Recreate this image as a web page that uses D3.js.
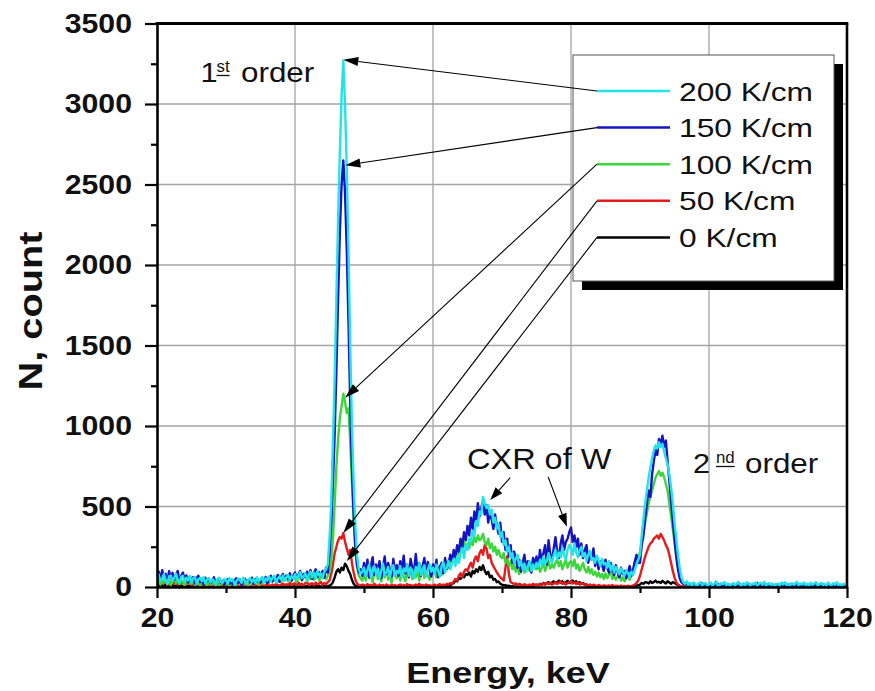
<!DOCTYPE html>
<html>
<head>
<meta charset="utf-8">
<script src="https://cdn.jsdelivr.net/npm/d3@7"></script>
<style>
  body { margin: 0; background: #fff; }
  svg { display: block; }
</style>
</head>
<body>
<svg id="chart" width="875" height="691"></svg>
<script>
// Energy grid of the spectra: 20 ... 120 keV in 0.25 keV channels
const energyStart = 20;
const energyStep = 0.25;

const xTicks = [20, 40, 60, 80, 100, 120];
const xMinorTicks = [30, 50, 70, 90, 110];
const yTicks = [0, 500, 1000, 1500, 2000, 2500, 3000, 3500];
const yMinorTicks = [250, 750, 1250, 1750, 2250, 2750, 3250];

const seriesLabels = ["200 K/cm", "150 K/cm", "100 K/cm", "50 K/cm", "0 K/cm"];

// Counts per channel; each row covers 5 keV (20 channels), last value is 120 keV
const counts200 = [
  60,78,35,52,80,44,20,66,71,38, 55,82,47,25,63,70,33,58,40,68,
  30,55,62,18,48,57,36,60,22,45, 52,28,50,40,15,47,58,33,26,50,
  42,20,55,38,48,12,35,52,44,25, 58,40,18,46,55,30,50,24,60,36,
  48,62,28,55,40,66,35,58,70,30, 52,65,45,72,38,60,75,42,68,55,
  80,48,70,92,55,65,85,40,78,95, 60,88,52,100,72,85,58,95,110,140,
  300,520,900,1300,1800,2300,2700,3050,3270,3000, 2600,2100,1500,1000,650,380,190,110,80,95,
  120,70,105,140,60,95,130,80,115,55, 100,145,75,90,125,60,110,135,70,100,
  85,130,60,115,95,140,70,120,100,55, 125,90,150,75,110,135,65,105,140,95,
  120,80,140,100,65,130,155,90,120,160, 110,145,175,130,190,150,210,240,180,260,
  230,300,280,350,320,410,380,470,450,560, 520,490,510,450,480,400,430,360,390,310,
  340,260,290,220,250,180,210,150,175,200, 130,160,110,145,95,130,160,100,140,115,
  150,120,170,135,190,145,160,210,175,150, 200,230,170,215,185,245,200,170,230,260,
  240,200,270,215,185,230,250,190,210,160, 200,225,170,180,150,195,165,130,175,140,
  150,120,160,105,135,90,125,100,80,115, 95,70,105,85,60,95,75,110,140,170,
  200,320,420,520,600,680,740,800,850,880, 860,900,870,890,840,800,760,700,620,520,
  400,300,200,120,60,30,20,35,15,25, 10,28,18,8,22,30,12,18,25,10,
  15,28,10,20,35,12,8,25,18,30, 12,22,8,16,26,10,20,32,14,9,
  24,12,30,18,10,22,15,28,8,20, 26,14,32,10,18,24,12,20,9,16,
  22,10,28,16,30,12,20,8,25,14, 18,32,10,22,15,28,12,20,9,26,
  14,22,30,10,18,25,12,20,8,28, 16,10,24,14,30,12,18,8,20,15,
  12
];
const counts150 = [
  70,95,40,105,60,82,30,98,55,88, 45,76,100,35,68,90,50,72,28,64,
  40,62,22,55,70,30,48,15,58,35, 52,25,45,60,18,42,55,28,38,12,
  35,50,20,45,15,40,55,25,48,10, 38,52,22,44,30,58,18,50,35,42,
  28,55,40,62,25,48,70,35,58,45, 75,32,60,80,42,68,50,85,38,72,
  90,55,75,100,45,82,60,95,70,105, 50,88,110,62,92,75,100,58,120,90,
  200,380,650,950,1350,1800,2200,2500,2650,2450, 2100,1650,1150,750,450,250,140,90,110,70,
  150,90,170,60,130,185,75,140,100,160, 55,125,190,80,150,110,65,175,95,135,
  70,160,110,195,85,140,60,175,120,90, 205,100,150,70,130,180,85,155,105,65,
  140,95,170,60,125,150,85,180,110,140, 200,160,230,185,260,220,300,250,340,290,
  380,320,430,360,470,400,520,440,490,540, 450,510,400,470,420,360,450,380,330,400,
  280,340,230,300,190,260,150,220,180,120, 170,95,150,200,110,160,130,90,180,140,
  190,120,230,160,210,260,140,290,200,170, 240,310,220,180,270,320,230,280,300,340,
  370,280,320,250,300,200,270,180,230,260, 150,210,170,240,130,190,110,160,140,100,
  170,120,90,150,110,75,135,95,60,120, 80,100,55,90,130,70,110,160,200,150,
  150,260,320,430,520,600,560,700,780,850, 820,920,880,940,870,910,780,660,540,420,
  300,190,110,55,30,20,15,30,10,20, 8,25,12,5,18,10,22,6,14,9,
  5,15,8,3,12,20,6,10,4,16, 9,3,14,7,22,5,11,4,18,8,
  6,13,4,20,9,3,15,7,25,5, 12,4,10,18,6,3,14,8,5,16,
  4,12,7,20,5,9,3,14,6,10, 22,5,8,4,13,6,3,17,9,5,
  11,4,15,6,3,9,20,5,8,12, 4,7,18,5,10,3,14,6,9,4,
  5
];
const counts100 = [
  35,50,15,42,28,55,20,45,10,38, 48,25,52,18,40,30,12,44,22,36,
  20,35,12,40,25,8,30,18,38,10, 28,15,35,22,8,30,12,26,18,32,
  15,30,8,38,20,28,10,42,25,12, 35,18,30,8,40,22,15,36,28,12,
  40,20,48,30,55,25,45,35,60,28, 50,70,32,58,40,75,35,62,48,55,
  65,30,55,75,40,60,85,35,70,50, 80,45,62,90,38,72,55,85,48,70,
  90,160,300,520,750,920,1050,1120,1200,1150, 1080,1110,900,650,420,220,120,70,55,40,
  85,40,110,55,75,30,95,120,50,80, 35,100,60,130,45,85,25,115,70,55,
  90,40,125,65,35,105,75,140,50,95, 60,115,40,85,130,55,100,70,45,110,
  80,115,60,100,130,75,140,95,160,120, 180,150,210,170,240,200,260,230,280,250,
  270,240,300,260,310,280,320,290,300,330, 280,260,300,240,270,220,250,200,230,190,
  180,210,150,170,130,160,110,140,95,125, 80,110,140,90,120,150,100,130,160,115,
  110,140,95,120,150,100,130,160,115,140, 120,150,170,130,160,110,140,170,120,150,
  160,130,170,115,140,100,125,150,110,90, 125,85,110,75,95,65,90,60,80,50,
  85,55,75,100,50,70,45,65,90,40, 60,35,55,80,45,70,90,120,150,180,
  220,280,340,400,460,520,560,600,640,680, 700,720,690,710,680,640,600,520,440,360,
  280,200,130,80,45,25,15,20,10,15, 8,12,5,10,14,6,9,4,11,7,
  5,9,3,7,11,4,6,2,8,5, 10,3,6,9,4,7,2,8,5,3,
  6,10,4,3,8,5,12,3,6,4, 9,2,7,5,3,10,4,6,8,3,
  5,3,9,4,6,11,3,5,8,2, 6,4,10,5,3,7,4,9,2,6,
  4,8,3,6,10,2,5,7,3,9, 4,6,2,8,5,3,7,4,6,3,
  4
];
const counts50 = [
  30,42,18,38,25,45,12,35,28,40, 20,32,15,38,22,30,10,28,18,25,
  15,22,8,20,12,18,5,15,10,20, 8,14,5,12,18,6,10,4,12,8,
  6,10,3,8,12,4,7,10,5,9, 14,4,8,11,5,9,3,12,6,10,
  8,14,5,12,18,7,10,15,6,20, 12,8,16,22,10,18,12,25,15,20,
  22,10,28,15,20,8,25,30,12,18, 24,10,28,15,22,32,12,25,18,30,
  40,80,140,210,250,290,310,300,335,280, 240,200,230,150,90,45,20,12,8,15,
  12,5,18,8,14,4,20,10,6,15, 8,12,4,16,9,5,14,7,11,4,
  10,16,6,12,4,18,8,13,5,10, 15,7,20,9,12,5,16,8,11,6,
  10,14,6,12,18,8,15,10,20,14, 25,18,35,50,40,70,85,60,95,110,
  100,130,150,120,170,190,160,210,230,200, 260,240,180,200,150,130,110,90,75,60,
  50,40,120,190,80,30,25,18,22,12, 20,15,10,18,12,8,15,10,20,12,
  15,10,18,12,22,14,28,18,25,15, 20,30,18,26,35,20,28,15,24,30,
  35,22,28,18,30,15,25,20,12,18, 10,15,8,14,10,6,12,8,5,10,
  8,5,10,6,12,4,8,6,3,9, 5,7,4,8,3,6,10,15,25,40,
  70,110,150,190,220,250,270,280,300,310, 320,300,330,310,290,260,240,200,150,100,
  60,30,15,8,5,3,4,2,3,1, 2,3,1,2,0,1,2,1,0,1,
  2,1,0,1,3,1,0,2,1,0, 1,2,0,1,1,0,2,1,0,1,
  1,0,2,1,0,1,2,0,1,1, 0,2,1,0,1,0,1,2,0,1,
  0,1,1,0,2,1,0,1,0,2, 1,0,1,1,0,2,0,1,1,0,
  1,0,1,2,0,1,0,1,1,0, 2,0,1,0,1,1,0,2,1,0,
  1
];
const counts0 = [
  8,12,4,10,6,14,3,9,5,11, 4,8,2,7,10,3,6,2,8,4,
  3,6,1,5,2,7,1,4,3,6, 1,4,2,5,1,3,2,4,1,3,
  2,4,1,3,5,1,2,4,1,3, 2,5,1,3,2,4,1,2,3,1,
  4,2,5,1,3,6,2,4,1,5, 3,2,6,1,4,2,5,3,1,4,
  3,6,2,4,1,5,3,7,2,4, 6,2,5,3,8,2,4,6,3,5,
  8,15,30,60,95,110,90,120,105,145, 130,100,80,45,20,8,4,2,3,1,
  2,4,1,3,5,2,1,4,2,3, 1,5,2,3,1,4,2,1,3,2,
  4,1,3,2,5,1,3,2,4,1, 2,5,1,3,2,4,1,3,2,1,
  3,1,4,2,3,5,2,6,4,10, 8,18,25,40,35,55,50,70,60,80,
  75,90,65,100,85,110,95,125,105,135, 100,80,95,60,70,45,50,30,35,20,
  15,10,12,6,8,4,5,2,4,3, 2,4,1,3,2,5,3,8,6,12,
  15,10,20,14,25,18,22,30,20,28, 35,25,30,40,28,35,22,30,38,25,
  32,40,28,35,22,30,18,25,15,10, 8,5,4,6,2,3,1,4,2,1,
  3,1,2,4,1,2,3,1,2,1, 3,2,1,2,4,1,2,5,8,12,
  15,25,20,30,28,22,35,25,30,40, 28,32,25,38,30,22,35,28,20,30,
  25,18,12,6,3,1,2,0,1,0, 1,0,2,0,1,0,0,1,0,1,
  0,1,0,0,2,0,1,0,0,1, 0,0,1,0,0,1,0,0,0,1,
  0,0,1,0,1,0,0,0,1,0, 0,1,0,0,1,0,0,1,0,0,
  1,0,0,1,0,0,0,1,0,0, 1,0,0,0,1,0,1,0,0,0,
  0,1,0,0,0,1,0,0,1,0, 0,0,1,0,0,1,0,0,0,1,
  0
];

// Where each legend leader arrow points: [energy keV, counts]
const leaderTips = [[47.0, 3275], [47.3, 2620], [47.25, 1175], [47.0, 335], [47.5, 160]];
// CXR of W arrows: [from, to] in [keV, counts]
const cxrArrows = [
  [[71.2, 680], [68.3, 540]],
  [[76.7, 683], [79.4, 375]]
];

const seriesData = [counts200, counts150, counts100, counts50, counts0];
const seriesColors = ["#22e3e8", "#1414c4", "#3ad63a", "#e21c1c", "#000000"];

const svg = d3.select("#chart");
const FONT = "'Liberation Sans', Arial, Helvetica, sans-serif";

const x = d3.scaleLinear().domain([20, 120]).range([157, 847]);
const y = d3.scaleLinear().domain([0, 3500]).range([587, 23.5]);

function stretch(sel, k) {
  sel.each(function () {
    const w = this.getComputedTextLength();
    this.setAttribute("textLength", (w * k).toFixed(1));
    this.setAttribute("lengthAdjust", "spacingAndGlyphs");
  });
}

// grid
const grid = svg.append("g").attr("stroke", "#a3a3a3").attr("stroke-width", 1.3);
grid.selectAll(".gx").data(xTicks.slice(1, -1)).join("line")
  .attr("x1", d => x(d)).attr("x2", d => x(d))
  .attr("y1", y(0)).attr("y2", y(3500));
grid.selectAll(".gy").data(yTicks.slice(1, -1)).join("line")
  .attr("x1", x(20)).attr("x2", x(120))
  .attr("y1", d => y(d)).attr("y2", d => y(d));

// spectra
svg.append("clipPath").attr("id", "plotClip").append("rect")
  .attr("x", x(20)).attr("y", y(3500)).attr("width", x(120) - x(20)).attr("height", y(0) - y(3500));

const line = d3.line()
  .x((d, i) => x(energyStart + i * energyStep))
  .y(d => y(d));

const drawOrder = [4, 3, 2, 1, 0];
svg.append("g").attr("clip-path", "url(#plotClip)")
  .selectAll("path").data(drawOrder).join("path")
  .attr("d", i => line(seriesData[i]))
  .attr("fill", "none")
  .attr("stroke", i => seriesColors[i])
  .attr("stroke-width", 2.4)
  .attr("stroke-linejoin", "round");

// axes
const xAxisG = svg.append("g").attr("transform", `translate(0,${y(0)})`)
  .call(d3.axisBottom(x).tickValues(xTicks).tickSize(11).tickPadding(9).tickSizeOuter(0).tickFormat(d3.format("d")));
const xMinorG = svg.append("g").attr("transform", `translate(0,${y(0)})`)
  .call(d3.axisBottom(x).tickValues(xMinorTicks).tickSize(6).tickFormat(""));
xMinorG.select(".domain").remove();

const yAxisG = svg.append("g").attr("transform", `translate(${x(20)},0)`)
  .call(d3.axisLeft(y).tickValues(yTicks).tickSize(12).tickPadding(13).tickSizeOuter(0).tickFormat(d3.format("d")));
const yMinorG = svg.append("g").attr("transform", `translate(${x(20)},0)`)
  .call(d3.axisLeft(y).tickValues(yMinorTicks).tickSize(6).tickFormat(""));
yMinorG.select(".domain").remove();

[xAxisG, yAxisG, xMinorG, yMinorG].forEach(g => {
  g.selectAll(".domain").attr("stroke", "#000").attr("stroke-width", 2.6);
  g.selectAll(".tick line").attr("stroke", "#000").attr("stroke-width", 2.2);
});
[xAxisG, yAxisG].forEach(g => {
  g.selectAll(".tick text")
    .attr("font-family", FONT).attr("font-size", 28).attr("font-weight", "bold").attr("fill", "#111");
  stretch(g.selectAll(".tick text"), 1.08);
});

// top and right frame
svg.append("line").attr("x1", x(20) - 1.3).attr("x2", x(120) + 1.3).attr("y1", y(3500)).attr("y2", y(3500))
  .attr("stroke", "#000").attr("stroke-width", 3);
svg.append("line").attr("x1", x(120)).attr("x2", x(120)).attr("y1", y(3500)).attr("y2", y(0))
  .attr("stroke", "#000").attr("stroke-width", 2.6);

// axis titles
const xTitle = svg.append("text").attr("x", 508).attr("y", 683).attr("text-anchor", "middle")
  .attr("font-family", FONT).attr("font-size", 30).attr("font-weight", "bold").attr("fill", "#111")
  .text("Energy, keV");
stretch(xTitle, 1.2);
const yTitle = svg.append("text").attr("transform", "translate(42,311) rotate(-90)").attr("text-anchor", "middle")
  .attr("font-family", FONT).attr("font-size", 34).attr("font-weight", "bold").attr("fill", "#111")
  .text("N, count");
stretch(yTitle, 1.17);

// legend
const legend = { x: 573, y: 55, w: 261, h: 226, shadow: 9 };
svg.append("rect").attr("x", legend.x + legend.shadow).attr("y", legend.y + legend.shadow)
  .attr("width", legend.w).attr("height", legend.h).attr("fill", "#000");
svg.append("rect").attr("x", legend.x).attr("y", legend.y)
  .attr("width", legend.w).attr("height", legend.h).attr("fill", "#fff")
  .attr("stroke", "#555").attr("stroke-width", 1);

const rowY = i => 91 + i * 36.6;
const sampleX0 = 597, sampleX1 = 670;
const lg = svg.append("g");
lg.selectAll("line").data(seriesLabels).join("line")
  .attr("x1", sampleX0).attr("x2", sampleX1)
  .attr("y1", (d, i) => rowY(i)).attr("y2", (d, i) => rowY(i))
  .attr("stroke", (d, i) => seriesColors[i]).attr("stroke-width", 2.5);
const lgText = lg.selectAll("text").data(seriesLabels).join("text")
  .attr("x", 679).attr("y", (d, i) => rowY(i) + 9.5)
  .attr("font-family", FONT).attr("font-size", 26).attr("fill", "#111")
  .text(d => d);
stretch(lgText, 1.22);

// arrows
function arrow(x1, y1, x2, y2, headLen, headHalf) {
  const ang = Math.atan2(y2 - y1, x2 - x1);
  const bx = x2 - headLen * Math.cos(ang), by = y2 - headLen * Math.sin(ang);
  const px = -Math.sin(ang) * headHalf, py = Math.cos(ang) * headHalf;
  svg.append("line").attr("x1", x1).attr("y1", y1).attr("x2", bx).attr("y2", by)
    .attr("stroke", "#000").attr("stroke-width", 1.1);
  svg.append("path")
    .attr("d", `M${x2},${y2}L${bx + px},${by + py}L${bx - px},${by - py}Z`)
    .attr("fill", "#000");
}
leaderTips.forEach((t, i) => arrow(sampleX0, rowY(i), x(t[0]), y(t[1]), 15, 4.5));
cxrArrows.forEach(a => arrow(x(a[0][0]), y(a[0][1]), x(a[1][0]), y(a[1][1]), 13, 4.5));

// annotations
function label(tx, ty, str, size, k) {
  const t = svg.append("text").attr("x", tx).attr("y", ty)
    .attr("font-family", FONT).attr("font-size", size).attr("fill", "#111").text(str);
  stretch(t, k);
  return t;
}
function ordinal(x0, base, num, supX, sup, wordX) {
  label(x0, base, num, 28, 1.1);
  const s = label(supX, base - 10.5, sup, 16, 1.05);
  const sw = s.node().getComputedTextLength();
  svg.append("line").attr("x1", supX).attr("x2", supX + sw)
    .attr("y1", base - 6.5).attr("y2", base - 6.5).attr("stroke", "#111").attr("stroke-width", 1.3);
  label(wordX, base, "order", 28, 1.12);
}
ordinal(200.5, 82, "1", 216.5, "st", 241);
ordinal(693, 473, "2", 716, "nd", 745);
label(467, 469, "CXR of W", 29, 1.12);
</script>
</body>
</html>
